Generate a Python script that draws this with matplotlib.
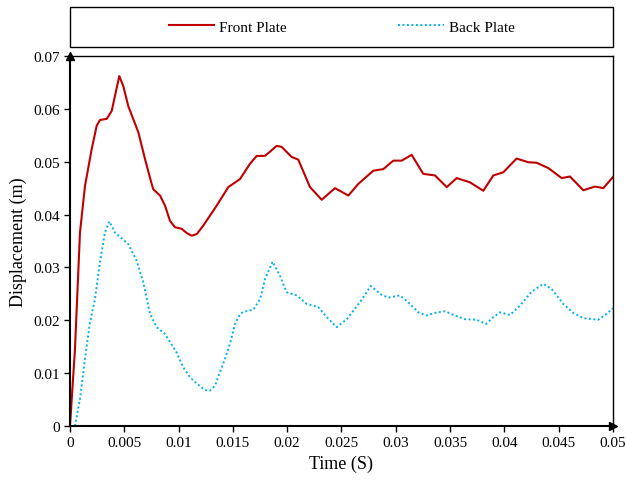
import matplotlib
matplotlib.use('Agg')
import matplotlib.pyplot as plt
from matplotlib.patches import Rectangle

# values
front_t = [0, 0.00046, 0.00092, 0.00138, 0.0020, 0.00246, 0.00276, 0.00338, 0.00384,
           0.00454, 0.00491, 0.00537, 0.00629, 0.00691, 0.00752, 0.00767, 0.00829,
           0.00875, 0.00921, 0.00967, 0.01029, 0.01075, 0.01121, 0.01167, 0.01227,
           0.01351, 0.01458, 0.01565, 0.01657, 0.01719, 0.01795, 0.01842,
           0.01903, 0.01949, 0.02041, 0.02102, 0.0221, 0.02318, 0.0244,
           0.02563, 0.02655, 0.02793, 0.02885, 0.02977, 0.03054, 0.03146, 0.03253,
           0.03361, 0.03469, 0.03561, 0.03683, 0.03806, 0.03898, 0.0399, 0.04113,
           0.0422, 0.04297, 0.04404, 0.04528, 0.04604, 0.04727, 0.04834, 0.04911, 0.05]
front_d = [0, 0.0146, 0.0366, 0.0454, 0.0524, 0.0568, 0.0579, 0.0581, 0.0596,
           0.0662, 0.0643, 0.0605, 0.0556, 0.0505, 0.0458, 0.0448, 0.0436,
           0.0417, 0.0388, 0.0376, 0.0373, 0.0365, 0.0360, 0.0363, 0.0379,
           0.0417, 0.0452, 0.0467, 0.0496, 0.0511, 0.0511, 0.0519,
           0.0530, 0.0528, 0.0509, 0.0504, 0.0452, 0.0428, 0.0450,
           0.0436, 0.0458, 0.0483, 0.0486, 0.0502, 0.0502, 0.0513, 0.0477,
           0.0474, 0.0452, 0.0469, 0.0461, 0.0445, 0.0474, 0.0480, 0.0506,
           0.0499, 0.0498, 0.0488, 0.0469, 0.0472, 0.0446, 0.0453, 0.0450, 0.0471]

back_t = [0, 0.0002, 0.00046, 0.00092, 0.00138, 0.00184, 0.0023, 0.00276, 0.00322,
          0.00362, 0.00414, 0.00476, 0.00537, 0.00614, 0.00675, 0.00737, 0.00798,
          0.00875, 0.00921, 0.00982, 0.01043, 0.01105, 0.01181, 0.01243, 0.01289,
          0.01335, 0.01381, 0.01427, 0.01473, 0.01519, 0.01565, 0.01596,
          0.01688, 0.0175, 0.01796, 0.01866, 0.01934, 0.01995,
          0.02088, 0.0218, 0.02286, 0.02364, 0.02456, 0.02548, 0.0267, 0.02769,
          0.0287, 0.02931, 0.03039, 0.03131, 0.03207, 0.03285, 0.03361, 0.03453,
          0.03545, 0.03637, 0.03745, 0.03831, 0.03898, 0.03959, 0.04052, 0.04144,
          0.04251, 0.04358, 0.04436, 0.04542, 0.04634, 0.04727, 0.04865, 0.04942, 0.05]
back_d = [0, 0, 0.0001, 0.0051, 0.0127, 0.0196, 0.0240, 0.0310, 0.0366,
          0.0387, 0.0366, 0.0355, 0.0344, 0.0313, 0.0272, 0.0212, 0.0187,
          0.0174, 0.0159, 0.0139, 0.0111, 0.0092, 0.0078, 0.0068, 0.0067,
          0.0076, 0.0102, 0.0127, 0.0155, 0.0193, 0.0211, 0.0216,
          0.0220, 0.0240, 0.0278, 0.0311, 0.0284, 0.0253,
          0.0247, 0.0231, 0.0225, 0.0206, 0.0187, 0.0202, 0.0234, 0.0265,
          0.0248, 0.0243, 0.0247, 0.0231, 0.0215, 0.0209, 0.0214, 0.0217,
          0.0209, 0.0202, 0.0201, 0.0193, 0.0206, 0.0215, 0.0210, 0.0228,
          0.0254, 0.0269, 0.0259, 0.0231, 0.0214, 0.0204, 0.0201, 0.0212, 0.0223]

x_ticks = [0, 0.005, 0.01, 0.015, 0.02, 0.025, 0.03, 0.035, 0.04, 0.045, 0.05]
x_labels = ['0', '0.005', '0.01', '0.015', '0.02', '0.025', '0.03', '0.035', '0.04', '0.045', '0.05']
y_ticks = [0, 0.01, 0.02, 0.03, 0.04, 0.05, 0.06, 0.07]
y_labels = ['0', '0.01', '0.02', '0.03', '0.04', '0.05', '0.06', '0.07']

plt.rcParams['font.family'] = ['Liberation Serif', 'DejaVu Serif']

fig = plt.figure(figsize=(6.26, 4.81), dpi=100)
ax = fig.add_axes([0.1118, 0.1123, 0.8674, 0.7692])

ax.plot(front_t, front_d, color='#C00000', lw=1.5, solid_joinstyle='round',
        label='Front Plate')
ax.plot(back_t, back_d, color='#00B0F0', lw=1.4, dashes=(1, 1.3), label='Back Plate')

ax.set_xlim(0, 0.05)
ax.set_ylim(0, 0.07)
ax.set_xticks(x_ticks)
ax.set_xticklabels(x_labels)
ax.set_yticks(y_ticks)
ax.set_yticklabels(y_labels)
ax.tick_params(direction='out', length=4, width=1, labelsize=11, colors='black')
ax.set_xlabel('Time (S)', fontsize=13)
ax.set_ylabel('Displacement (m)', fontsize=13)

for side in ['left', 'bottom']:
    ax.spines[side].set_linewidth(1.5)
for side in ['top', 'right']:
    ax.spines[side].set_linewidth(1.0)

# axis arrows
ax.plot([0], [1], marker='^', ms=6, color='black', transform=ax.transAxes, clip_on=False)
ax.plot([1], [0], marker='>', ms=6, color='black', transform=ax.transAxes, clip_on=False)

# legend box above the plot
fig.add_artist(Rectangle((0.1118, 0.9002), 0.8674, 0.0832, transform=fig.transFigure,
                         fill=False, edgecolor='black', lw=1.0))
fig.legend(loc='center', bbox_to_anchor=(0.5455, 0.9418), ncol=2, frameon=False,
           fontsize=11, handlelength=3.0, handletextpad=0.3, columnspacing=7.3)

fig.savefig('out.png', dpi=100)
